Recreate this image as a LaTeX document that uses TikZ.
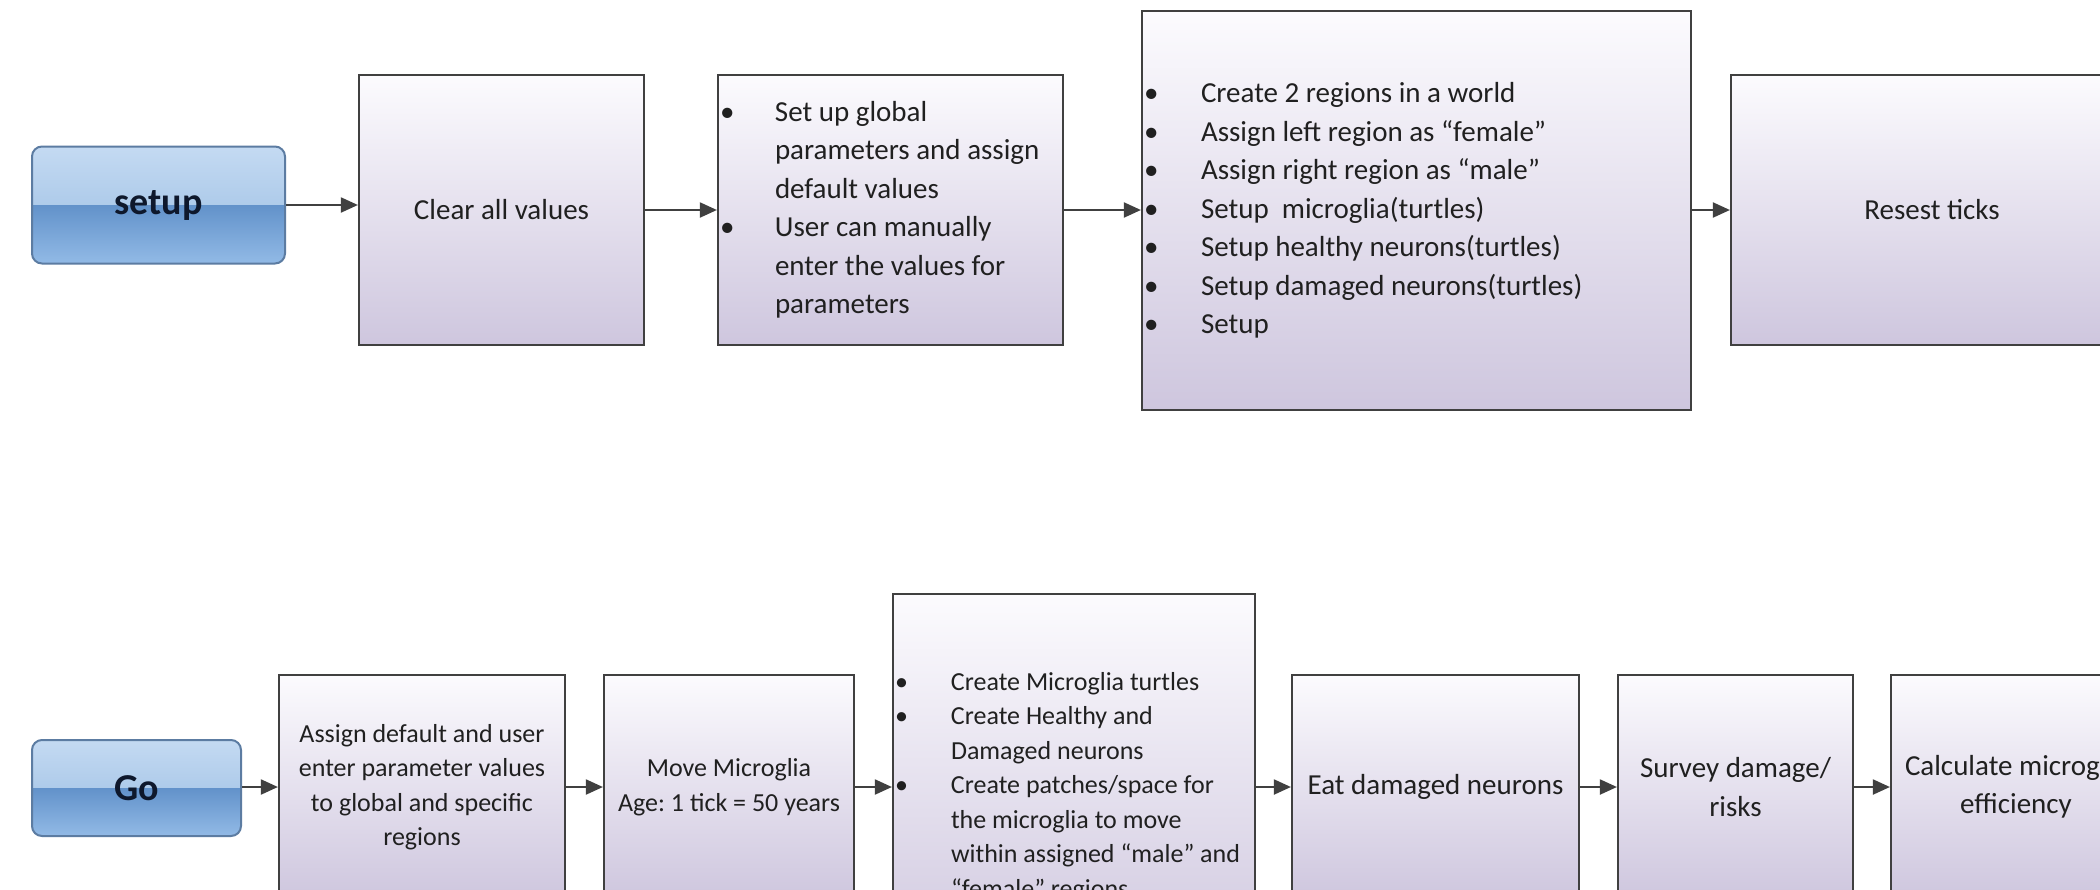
\documentclass[tikz,border=0pt]{standalone}
\usepackage{fontspec}
\setmainfont{Carlito}
\usetikzlibrary{arrows.meta}
\frenchspacing
\definecolor{boxtop}{RGB}{252,251,254}
\definecolor{boxbot}{RGB}{206,198,222}
\definecolor{edge}{RGB}{64,64,64}
\definecolor{btnA}{RGB}{196,218,242}
\definecolor{btnB}{RGB}{152,188,226}
\definecolor{btnC}{RGB}{98,146,202}
\definecolor{btnD}{RGB}{146,186,230}
\definecolor{btnedge}{RGB}{92,124,162}
\definecolor{ink}{RGB}{32,32,32}
\definecolor{btnink}{RGB}{14,24,44}
\tikzset{
  procbox/.style={draw=edge, line width=2.2pt, top color=boxtop, bottom color=boxbot,
    inner sep=0pt, text=ink, font=\fontsize{29}{38.5}\selectfont, align=center},
  smallbox/.style={procbox, font=\fontsize{26}{34.5}\selectfont},
  btn/.style={rounded corners=10pt, draw=btnedge, line width=2pt, inner sep=0pt,
    text=btnink, font=\fontsize{38}{40}\selectfont\bfseries,
    path picture={
      \fill[sharp corners, top color=btnA, bottom color=btnB]
        (path picture bounding box.north west) rectangle (path picture bounding box.east);
      \fill[sharp corners, top color=btnC, bottom color=btnD]
        (path picture bounding box.west) rectangle (path picture bounding box.south east);
    }},
  flow/.style={draw=edge, line width=2pt, -{Triangle[length=17pt,width=15pt]}}
}
\newcommand{\bul}{\hspace*{2pt}\textbullet}
\begin{document}
\begin{tikzpicture}[x=1pt,y=-1pt]
\useasboundingbox (0,0) rectangle (2100,889);
\fill[white] (0,0) rectangle (2100,889);
\clip (0,0) rectangle (2100,889);

% ---- top row ----
\node[btn, minimum width=253pt, minimum height=117pt] (setup) at (158.5,205) {setup};
\node[procbox, minimum width=285pt, minimum height=270pt] (clear) at (501.5,210) {Clear all values};
\node[procbox, minimum width=345pt, minimum height=270pt] (glob) at (890.5,210)
  {\makebox[345pt][l]{\begin{tabular}{@{}p{57pt}@{}l@{}}
   \bul & Set up global\\
        & parameters and assign\\
        & default values\\
   \bul & User can manually\\
        & enter the values for\\
        & parameters
  \end{tabular}}};
\node[procbox, minimum width=549pt, minimum height=399pt] (regions) at (1416.5,210.5)
  {\makebox[549pt][l]{\begin{tabular}{@{}p{59pt}@{}l@{}}
   \bul & Create 2 regions in a world\\
   \bul & Assign left region as “female”\\
   \bul & Assign right region as “male”\\
   \bul & Setup~\ microglia(turtles)\\
   \bul & Setup healthy neurons(turtles)\\
   \bul & Setup damaged neurons(turtles)\\
   \bul & Setup
  \end{tabular}}};
\node[procbox, minimum width=402pt, minimum height=270pt] (reset) at (1932,210) {Resest ticks};

\draw[flow] (setup.east) -- (setup.east -| clear.west);
\draw[flow] (clear.east) -- (clear.east -| glob.west);
\draw[flow] (glob.east) -- (glob.east -| regions.west);
\draw[flow] (glob.east -| regions.east) -- (glob.east -| reset.west);

% ---- bottom row ----
\node[btn, minimum width=209pt, minimum height=96pt] (go) at (136.5,788) {Go};
\node[smallbox, minimum width=286pt, minimum height=224pt] (assign) at (422,787)
  {Assign default and user\\ enter parameter values\\ to global and specific\\ regions};
\node[smallbox, minimum width=250pt, minimum height=224pt] (move) at (729,787)
  {Move Microglia\\ Age: 1 tick = 50 years};
\node[smallbox, minimum width=362pt, minimum height=386pt] (create) at (1074,787)
  {\makebox[362pt][l]{\begin{tabular}{@{}p{58pt}@{}l@{}}
   \bul & Create Microglia turtles\\
   \bul & Create Healthy and\\
        & Damaged neurons\\
   \bul & Create patches/space for\\
        & the microglia to move\\
        & within assigned “male” and\\
        & “female” regions
  \end{tabular}}};
\node[procbox, minimum width=287pt, minimum height=224pt] (eat) at (1435.5,787) {Eat damaged neurons};
\node[procbox, minimum width=235pt, minimum height=224pt] (survey) at (1735.5,787) {Survey damage/\\ risks};
\node[procbox, minimum width=250pt, minimum height=224pt] (calc) at (2016,787) {Calculate microglia\\ efficiency};

\draw[flow] (go.east |- assign.west) -- (assign.west);
\draw[flow] (assign.east) -- (move.west);
\draw[flow] (move.east) -- (create.west);
\draw[flow] (create.east) -- (eat.west);
\draw[flow] (eat.east) -- (survey.west);
\draw[flow] (survey.east) -- (calc.west);
\end{tikzpicture}
\end{document}
